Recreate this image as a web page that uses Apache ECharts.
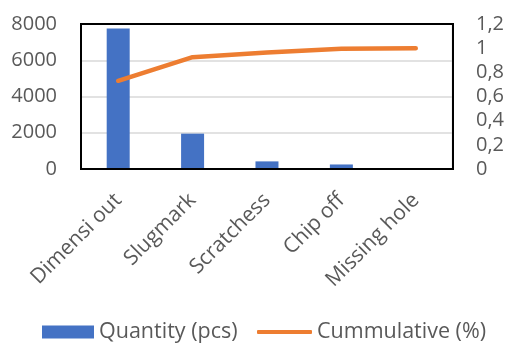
<!DOCTYPE html>
<html>
<head>
<meta charset="utf-8">
<script src="https://cdn.jsdelivr.net/npm/echarts@6/dist/echarts.min.js"></script>
<style>
  html, body { margin: 0; padding: 0; background: #fff; }
  #wrap { position: relative; width: 507px; height: 343px; }
  #chart { width: 507px; height: 343px; }
  /* black frame around the plot area */
  #frame {
    position: absolute; left: 80px; top: 23px; width: 374px; height: 147px;
    box-sizing: border-box; border: 2px solid #000; pointer-events: none;
  }
</style>
</head>
<body>
<div id="wrap">
  <div id="chart"></div>
  <div id="frame"></div>
</div>
<script>
// Defect categories (Pareto order)
const categories = ['Dimensi out', 'Slugmark', 'Scratchess', 'Chip off', 'Missing hole'];
// Defect count per category
const quantity = [7750, 1950, 420, 250, 45];
// Cumulative share per category
const cumulative = [0.73, 0.925, 0.965, 0.995, 1.0];
// Axis tick labels
const leftTicks = ['0', '2000', '4000', '6000', '8000'];
const rightTicks = ['0', '0,2', '0,4', '0,6', '0,8', '1', '1,2'];

const font = '"Open Sans", Lato, sans-serif';
const textColor = '#595959';
const plot = { left: 81, top: 24, width: 372, height: 145 };

const chart = echarts.init(document.getElementById('chart'));
chart.setOption({
  animation: false,
  textStyle: { fontFamily: font },
  grid: {
    left: plot.left, top: plot.top, width: plot.width, height: plot.height,
    show: true, borderColor: '#000', borderWidth: 2
  },
  legend: [
    {
      left: 37, bottom: -5,
      itemWidth: 52, itemHeight: 13, itemGap: 0,
      textStyle: { fontFamily: font, fontSize: 21.5, color: textColor },
      data: [{ name: 'Quantity (pcs)', icon: 'rect' }]
    },
    {
      left: 252, bottom: -5,
      itemWidth: 55, itemHeight: 4, itemGap: 0,
      textStyle: { fontFamily: font, fontSize: 21.5, color: textColor },
      data: [{ name: 'Cummulative (%)', icon: 'roundRect' }]
    }
  ],
  xAxis: {
    type: 'category',
    data: categories,
    axisTick: { show: false },
    axisLine: { show: true, lineStyle: { color: '#000', width: 2 } },
    axisLabel: {
      rotate: 45, margin: 28, interval: 0,
      fontFamily: font, fontSize: 21, color: textColor
    }
  },
  yAxis: [
    {
      type: 'value', min: 0, max: 8000, interval: 2000,
      axisLine: { show: false }, axisTick: { show: false },
      splitLine: { lineStyle: { color: '#d9d9d9', width: 1.5 } },
      axisLabel: {
        margin: 24, fontFamily: font, fontSize: 20, color: textColor,
        formatter: (v) => leftTicks[Math.round(v / 2000)]
      }
    },
    {
      type: 'value', min: 0, max: 1.2, interval: 0.2,
      axisLine: { show: false }, axisTick: { show: false },
      splitLine: { show: false },
      axisLabel: {
        margin: 23, fontFamily: font, fontSize: 20, color: textColor,
        formatter: (v) => rightTicks[Math.round(v / 0.2)]
      }
    }
  ],
  series: [
    {
      name: 'Quantity (pcs)',
      type: 'bar',
      data: quantity,
      yAxisIndex: 0,
      barWidth: 23,
      itemStyle: { color: '#4472C4' }
    },
    {
      name: 'Cummulative (%)',
      type: 'line',
      data: cumulative,
      yAxisIndex: 1,
      symbol: 'none',
      z: 3,
      itemStyle: { color: '#ED7D31' },
      lineStyle: { color: '#ED7D31', width: 4.5, cap: 'round', join: 'round' }
    }
  ]
});
</script>
</body>
</html>
